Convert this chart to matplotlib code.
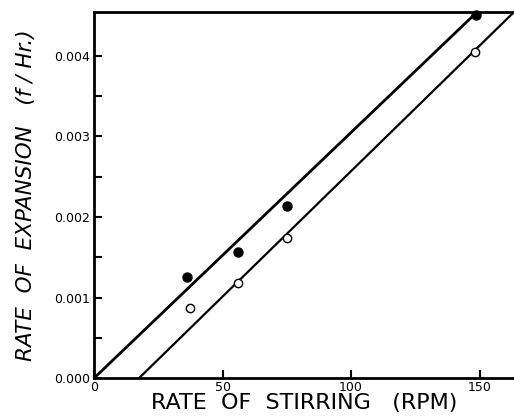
import numpy as np
import matplotlib.pyplot as plt

# stirring rate (RPM) and expansion rate (f/Hr.)
rpm_filled = [36, 56, 75, 148.5]
rate_filled = [0.00125, 0.00157, 0.00214, 0.00450]
rpm_open = [37.5, 56, 75, 148.2]
rate_open = [0.00087, 0.00118, 0.00174, 0.00404]

# fitted lines, given by their end points
fit_upper_x = [0, 149]
fit_upper_y = [0.0, 0.00454]
fit_lower_x = [17.5, 163.4]
fit_lower_y = [0.0, 0.00454]

fig = plt.figure(figsize=(5.14, 4.16), dpi=100)
ax = fig.add_axes([0.183, 0.091, 0.817, 0.880])

ax.plot(fit_upper_x, fit_upper_y, color="black", lw=2.0, solid_capstyle="butt")
ax.plot(fit_lower_x, fit_lower_y, color="black", lw=1.6, solid_capstyle="butt")
ax.plot(rpm_filled, rate_filled, "o", color="black", ms=6.5, clip_on=False)
ax.plot(rpm_open, rate_open, "o", mfc="white", mec="black", mew=1.0, ms=6, clip_on=False)

ax.set_xlim(0, 163.4)
ax.set_ylim(0, 0.00454)
ax.spines["right"].set_visible(False)
for s in ["left", "bottom", "top"]:
    ax.spines[s].set_linewidth(2.0)

ax.set_xticks([0, 50, 100, 150])
ax.set_xticklabels(["0", "50", "100", "150"])
ax.set_yticks([0, 0.001, 0.002, 0.003, 0.004])
ax.set_yticklabels(["0.000", "0.001", "0.002", "0.003", "0.004"])
ax.set_yticks(np.arange(0.0005, 0.0045, 0.001), minor=True)
ax.tick_params(axis="both", direction="in", length=6, width=1.5, labelsize=9, pad=3)
ax.tick_params(axis="y", which="minor", direction="in", length=6, width=1.5)
ax.tick_params(axis="x", pad=2)

ax.set_xlabel("RATE  OF  STIRRING   (RPM)", fontsize=16, labelpad=-1)
ax.set_ylabel("RATE  OF  EXPANSION   (f / Hr.)", fontsize=15.5, style="italic", labelpad=13)

fig.savefig("out.png", dpi=100)
